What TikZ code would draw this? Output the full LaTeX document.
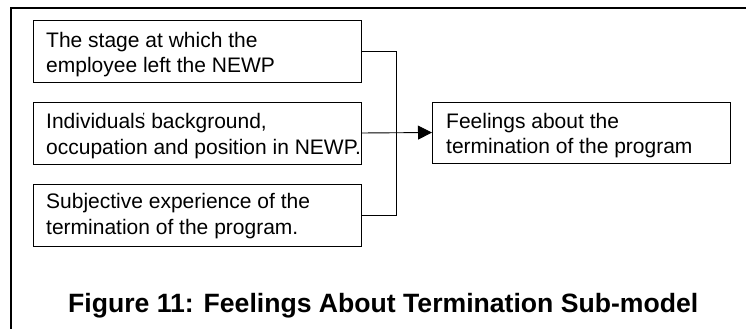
\documentclass[tikz,border=0pt]{standalone}
\usepackage{fontspec}
\usepackage{graphicx}
\setmainfont{Liberation Sans}
\usetikzlibrary{arrows.meta}
\tikzset{
  factor/.style={draw=black, line width=0.9pt, inner sep=0pt, outer sep=0pt},
  boxtext/.style={anchor=base west, inner sep=0pt, font=\fontsize{21}{25}\selectfont},
  link/.style={draw=black, line width=0.9pt},
  frame/.style={draw=black, line width=1.5pt},
}
\newcommand{\twolines}[3]{\vtop{\baselineskip=#1pt\hbox{#2}\hbox{#3}}}
\begin{document}
\begin{tikzpicture}[x=1pt, y=-1pt]
  \useasboundingbox (0,0) rectangle (747,329);
  % outer frame, open at the right and bottom
  \coordinate (frameBL) at (11,335);
  \coordinate (frameTL) at (11,8);
  \coordinate (frameTR) at (746,8);
  \draw[frame] (frameBL) -- (frameTL) -- (frameTR);

  % factor boxes
  \node[factor, minimum width=328pt, minimum height=62pt, anchor=north west] (stage) at (33,20) {};
  \node[factor, minimum width=328pt, minimum height=62pt, anchor=north west] (back) at (33,102) {};
  \node[factor, minimum width=328pt, minimum height=62pt, anchor=north west] (subj) at (33,184) {};
  \node[factor, minimum width=298pt, minimum height=61pt, anchor=north west] (feel) at (432,102) {};

  % box texts
  \node[boxtext] (stageT) at (46,48) {\twolines{25}{The stage at which the}{employee left the NEWP}};
  \node[boxtext] (backT) at (46,128) {\twolines{26}{Individuals\llap{\raisebox{0.32em}{\fontsize{12}{12}\selectfont ’}\kern0.02em} background,}{occupation and position in NEWP.}};
  \node[boxtext] (subjT) at (46,208) {\twolines{26.5}{Subjective experience of the}{termination of the program.}};
  \node[boxtext] (feelT) at (446,128) {\twolines{25}{Feelings about the}{termination of the program}};

  % connectors
  \coordinate (busTop) at (396,51);
  \coordinate (busBot) at (396,215);
  \draw[link] (stage.east) -- (busTop) -- (busBot) -- (subj.east);
  \draw[link, -{Triangle[length=14pt, width=14pt]}] (back.east) -- (feel.west);

  % caption
  \node[anchor=base west, inner sep=0pt, font=\fontsize{26.5}{30}\selectfont\bfseries] (cap) at (68,312)
    {\resizebox{630pt}{\height}{Figure 11: Feelings About Termination Sub-model}};
\end{tikzpicture}
\end{document}
